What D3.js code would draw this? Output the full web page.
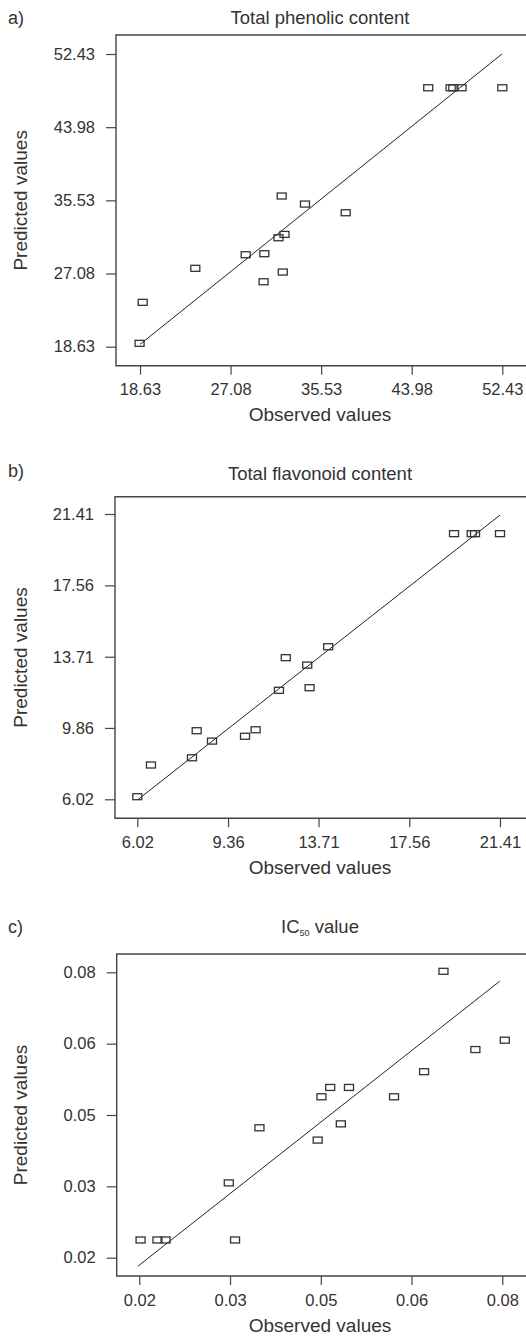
<!DOCTYPE html>
<html lang="en">
<head>
<meta charset="utf-8">
<title>Observed vs predicted values</title>
<script src="https://d3js.org/d3.v7.min.js"></script>
<style>
  body { margin: 0; background: #fff; }
  svg { display: block; font-family: "Liberation Sans", Arial, sans-serif; }
  .tick text { font-size: 16.5px; fill: #333; }
  .tick line { stroke: #444; stroke-width: 1.2px; }
  .frame { stroke: #444; stroke-width: 1.4px; fill: none; }
  .pt { fill: none; stroke: #333; stroke-width: 1.3px; }
  .fit { stroke: #222; stroke-width: 1px; fill: none; }
</style>
</head>
<body>
<svg id="chart"></svg>
<script>
// a) total phenolic content
const tpcTicks = [18.63, 27.08, 35.53, 43.98, 52.43];
const tpcLabels = ["18.63", "27.08", "35.53", "43.98", "52.43"];
const tpcObserved  = [45.52, 47.61, 47.86, 48.63, 52.43, 31.85, 34.02, 37.82, 31.55, 32.11, 28.49, 30.23, 23.79, 31.95, 30.16, 18.88, 18.59];
const tpcPredicted = [48.53, 48.53, 48.53, 48.53, 48.53, 36.03, 35.10, 34.10, 31.21, 31.60, 29.25, 29.37, 27.68, 27.25, 26.13, 23.75, 19.02];
const tpcFit = [[18.63, 18.90], [52.40, 52.43]];

// b) total flavonoid content (second x label reads 9.36 in the original)
const tfcTicks = [6.02, 9.87, 13.71, 17.56, 21.41];
const tfcXLabels = ["6.02", "9.36", "13.71", "17.56", "21.41"];
const tfcYLabels = ["6.02", "9.86", "13.71", "17.56", "21.41"];
const tfcObserved  = [19.46, 20.21, 20.35, 21.41, 14.12, 12.32, 13.23, 13.33, 12.03, 8.54, 11.04, 10.59, 9.19, 8.34, 6.60, 6.02];
const tfcPredicted = [20.35, 20.35, 20.35, 20.35, 14.25, 13.66, 13.26, 12.04, 11.90, 9.72, 9.77, 9.42, 9.16, 8.26, 7.87, 6.16];
const tfcFit = [[6.06, 6.02], [21.41, 21.35]];

// c) IC50 value
const icTicks = [0.0200, 0.0345, 0.0490, 0.0635, 0.0780];
const icLabels = ["0.02", "0.03", "0.05", "0.06", "0.08"];
const icObserved  = [0.0686, 0.0737, 0.0784, 0.0655, 0.0505, 0.0535, 0.0491, 0.0607, 0.0522, 0.0485, 0.0392, 0.0343, 0.0353, 0.0202, 0.0229, 0.0242];
const icPredicted = [0.0782, 0.0623, 0.0642, 0.0578, 0.0546, 0.0546, 0.0527, 0.0527, 0.0472, 0.0439, 0.0464, 0.0352, 0.0236, 0.0236, 0.0236, 0.0236];
const icFit = [[0.0198, 0.0183], [0.0776, 0.0762]];

const W = 526, H = 1336;
const svg = d3.select("#chart").attr("width", W).attr("height", H);

// layout of each panel: frame top, tick range and frame bottom
const panels = [
  { tag: "a)", title: "Total phenolic content", ticks: tpcTicks, xl: tpcLabels, yl: tpcLabels,
    obs: tpcObserved, pred: tpcPredicted, fit: tpcFit,
    top: 35, y0: 346.7, y1: 54, bottom: 365.7, x0: 140, x1: 502.3, left: 116, titleY: 24, tagY: 24 },
  { tag: "b)", title: "Total flavonoid content", ticks: tfcTicks, xl: tfcXLabels, yl: tfcYLabels,
    obs: tfcObserved, pred: tfcPredicted, fit: tfcFit,
    top: 496.7, y0: 799.3, y1: 514, bottom: 818.3, x0: 137.3, x1: 500, left: 115, titleY: 480, tagY: 477 },
  { tag: "c)", title: "IC50", ticks: icTicks, xl: icLabels, yl: icLabels,
    obs: icObserved, pred: icPredicted, fit: icFit,
    top: 954, y0: 1257.7, y1: 972.3, bottom: 1276, x0: 139.3, x1: 502.3, left: 116.7, titleY: 933, tagY: 933 }
];

panels.forEach(p => {
  const g = svg.append("g");
  const dom = [p.ticks[0], p.ticks[p.ticks.length - 1]];
  const x = d3.scaleLinear().domain(dom).range([p.x0, p.x1]);
  const y = d3.scaleLinear().domain(dom).range([p.y0, p.y1]);

  // frame: left, top, bottom (runs off the right edge)
  g.append("path").attr("class", "frame")
    .attr("d", `M${W + 2},${p.top}H${p.left}V${p.bottom}H${W + 2}`);

  const xAxis = g.append("g")
    .attr("transform", `translate(0,${p.bottom})`)
    .call(d3.axisBottom(x).tickValues(p.ticks)
      .tickFormat((d, i) => p.xl[i]).tickSize(9).tickPadding(9).tickSizeOuter(0));
  xAxis.select(".domain").remove();

  const yAxis = g.append("g")
    .attr("transform", `translate(${p.left},0)`)
    .call(d3.axisLeft(y).tickValues(p.ticks)
      .tickFormat((d, i) => p.yl[i]).tickSize(10).tickPadding(11).tickSizeOuter(0));
  yAxis.select(".domain").remove();
  g.selectAll(".tick text").attr("font-family", null).attr("font-size", null);

  // fitted line
  g.append("line").attr("class", "fit")
    .attr("x1", x(p.fit[0][0])).attr("y1", y(p.fit[0][1]))
    .attr("x2", x(p.fit[1][0])).attr("y2", y(p.fit[1][1]));

  // points as open squares
  g.selectAll("rect.pt")
    .data(p.obs.map((v, i) => [v, p.pred[i]]))
    .join("rect").attr("class", "pt")
    .attr("x", d => x(d[0]) - 4.5).attr("y", d => y(d[1]) - 3)
    .attr("width", 9).attr("height", 6);

  // labels
  g.append("text").attr("x", 8).attr("y", p.tagY)
    .attr("font-size", 18).attr("fill", "#333").text(p.tag);

  const t = g.append("text").attr("x", 320).attr("y", p.titleY)
    .attr("text-anchor", "middle").attr("font-size", 18.5).attr("fill", "#333");
  if (p.title === "IC50") {
    t.append("tspan").text("IC");
    t.append("tspan").attr("font-size", 9).attr("dy", 3).text("50");
    t.append("tspan").attr("dy", -3).text(" value");
  } else {
    t.text(p.title);
  }

  g.append("text").attr("x", 320).attr("y", p.bottom + 55.5)
    .attr("text-anchor", "middle").attr("font-size", 19).attr("fill", "#333")
    .text("Observed values");

  const cy = (p.top + p.bottom) / 2;
  g.append("text")
    .attr("transform", `translate(26.5,${cy}) rotate(-90)`)
    .attr("text-anchor", "middle").attr("font-size", 19).attr("fill", "#333")
    .text("Predicted values");
});
</script>
</body>
</html>
